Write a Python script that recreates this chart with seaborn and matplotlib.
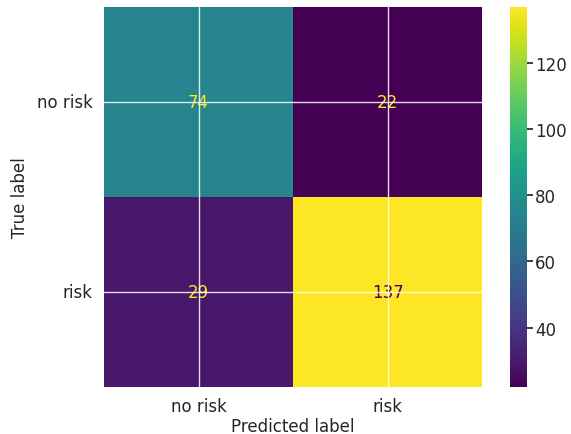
import numpy as np
import pandas as pd
import matplotlib
matplotlib.use("Agg")
import matplotlib.pyplot as plt
import seaborn as sns

# Confusion matrix of the risk classifier
class_names = ["no risk", "risk"]
row_no_risk = [74, 22]
row_risk = [29, 137]
cbar_ticks = [40, 60, 80, 100, 120]

cm = pd.DataFrame([row_no_risk, row_risk], index=class_names, columns=class_names)

sns.set_theme(style="darkgrid", context="notebook")
plt.rcParams["font.family"] = ["DejaVu Sans"]

fig = plt.figure(figsize=(5.71, 4.35), dpi=100)
ax = fig.add_axes([104 / 571, 47 / 435, 378 / 571, 380 / 435])
cax = fig.add_axes([510 / 571, 47 / 435, 17 / 571, 380 / 435])

cmap = plt.get_cmap("viridis")
vmin, vmax = cm.values.min(), cm.values.max()
sns.heatmap(cm, ax=ax, cbar_ax=cax, cmap=cmap, vmin=vmin, vmax=vmax,
            annot=True, fmt="d", annot_kws={"size": 12},
            cbar_kws={"ticks": cbar_ticks})

# Dark text on bright cells, bright text on dark cells; grid drawn on top
thresh = (vmin + vmax) / 2
for txt, val in zip(ax.texts, cm.values.ravel()):
    txt.set_color(cmap(0) if val > thresh else cmap(1.0))
    txt.set_zorder(2)

ax.set_axisbelow(False)
ax.grid(True, color="white", linewidth=1, alpha=0.85)
ax.set_xlabel("Predicted label", fontsize=12, labelpad=2)
ax.set_ylabel("True label", fontsize=12, labelpad=6)
ax.tick_params(axis="both", labelsize=12, length=0)
ax.tick_params(axis="x", pad=7)
ax.tick_params(axis="y", pad=8)
plt.setp(ax.get_yticklabels(), rotation=0)
plt.setp(ax.get_xticklabels(), rotation=0)
cax.tick_params(labelsize=12, right=True, length=4, color=".15", pad=2)

fig.savefig("out.png", dpi=100)
